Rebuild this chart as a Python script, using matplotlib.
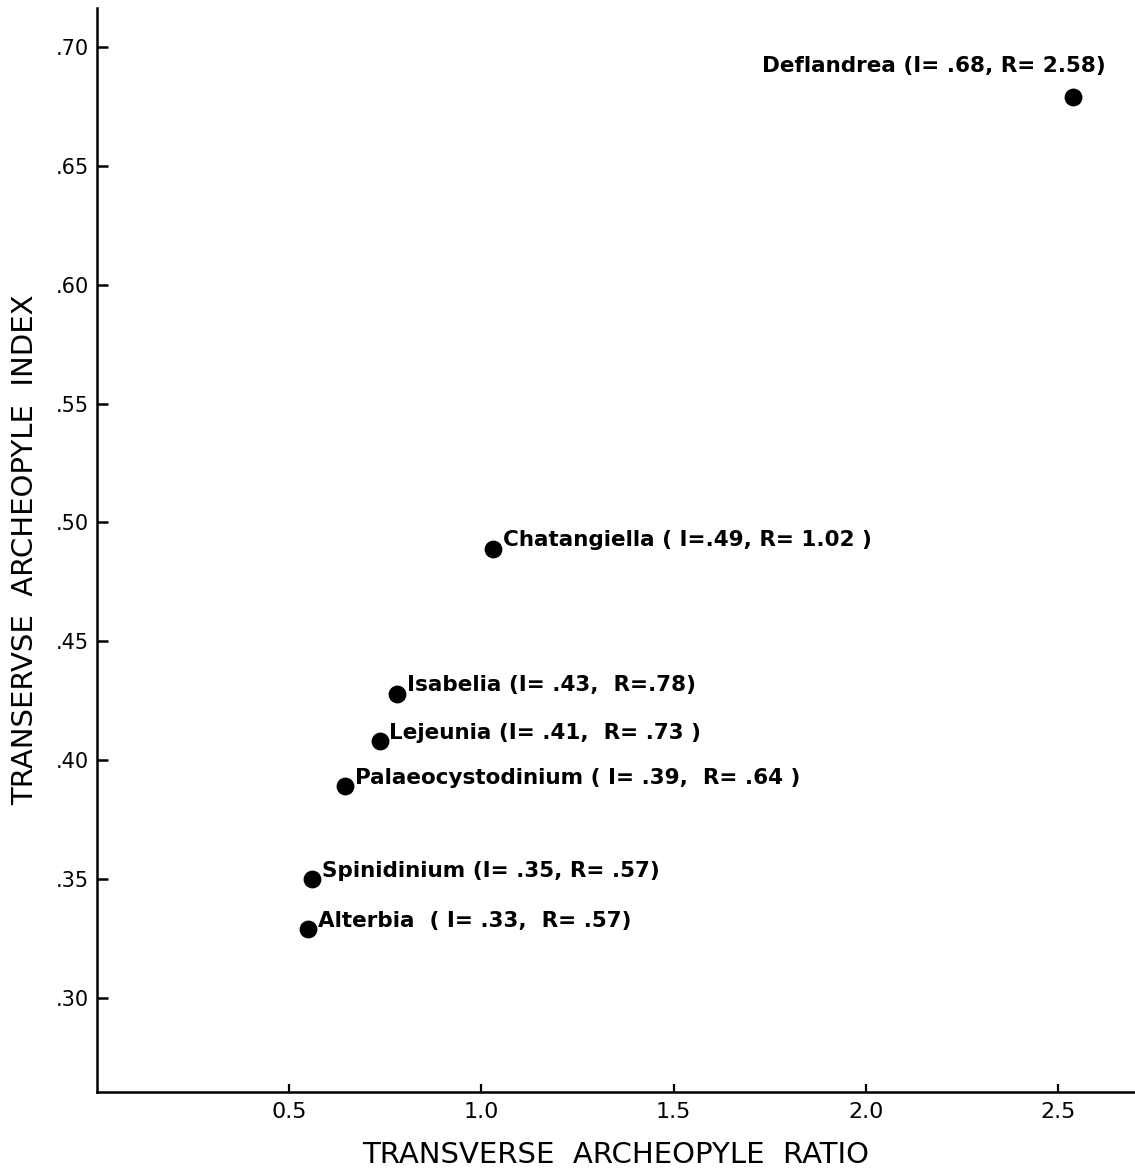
import matplotlib
matplotlib.use("Agg")
import matplotlib.pyplot as plt

# genus values
genera = ["Deflandrea", "Chatangiella", "Isabelia", "Lejeunia",
          "Palaeocystodinium", "Spinidinium", "Alterbia"]
ratio = [2.54, 1.03, 0.78, 0.735, 0.645, 0.56, 0.55]
index = [0.679, 0.489, 0.428, 0.408, 0.389, 0.350, 0.329]
labels = ["Deflandrea (I= .68, R= 2.58)",
          "Chatangiella ( I=.49, R= 1.02 )",
          "Isabelia (I= .43,  R=.78)",
          "Lejeunia (I= .41,  R= .73 )",
          "Palaeocystodinium ( I= .39,  R= .64 )",
          "Spinidinium (I= .35, R= .57)",
          "Alterbia  ( I= .33,  R= .57)"]

xticks = [0.5, 1.0, 1.5, 2.0, 2.5]
xticklabels = ["0.5", "1.0", "1.5", "2.0", "2.5"]
yticks = [0.30, 0.35, 0.40, 0.45, 0.50, 0.55, 0.60, 0.65, 0.70]
yticklabels = [".30", ".35", ".40", ".45", ".50", ".55", ".60", ".65", ".70"]

fig = plt.figure(figsize=(11.35, 11.71), dpi=100)
ax = fig.add_axes([0.0855, 0.0675, 0.9145, 0.9257])

ax.scatter(ratio, index, s=140, color="black", zorder=3)

for i, name in enumerate(genera):
    if name == "Deflandrea":
        # this one sits above and to the left of its dot
        off = (-224, 22)
    else:
        off = (7, 6)
    ax.annotate(labels[i], (ratio[i], index[i]), xytext=off,
                textcoords="offset points", fontsize=15.5,
                fontweight="bold", ha="left", va="center")

ax.set_xlim(0.0, 2.7)
ax.set_ylim(0.2605, 0.7164)
ax.set_xticks(xticks)
ax.set_xticklabels(xticklabels)
ax.set_yticks(yticks)
ax.set_yticklabels(yticklabels)

for side in ["top", "right"]:
    ax.spines[side].set_visible(False)
for side in ["left", "bottom"]:
    ax.spines[side].set_linewidth(1.8)

ax.tick_params(axis="y", direction="in", length=8, width=1.8,
               labelsize=15, pad=6)
ax.tick_params(axis="x", direction="in", length=6, width=1.6,
               labelsize=16, pad=7)

ax.set_xlabel("TRANSVERSE  ARCHEOPYLE  RATIO", fontsize=21, labelpad=14)
ax.set_ylabel("TRANSERVSE  ARCHEOPYLE  INDEX", fontsize=21, labelpad=12)

fig.savefig("out.png", dpi=100)
